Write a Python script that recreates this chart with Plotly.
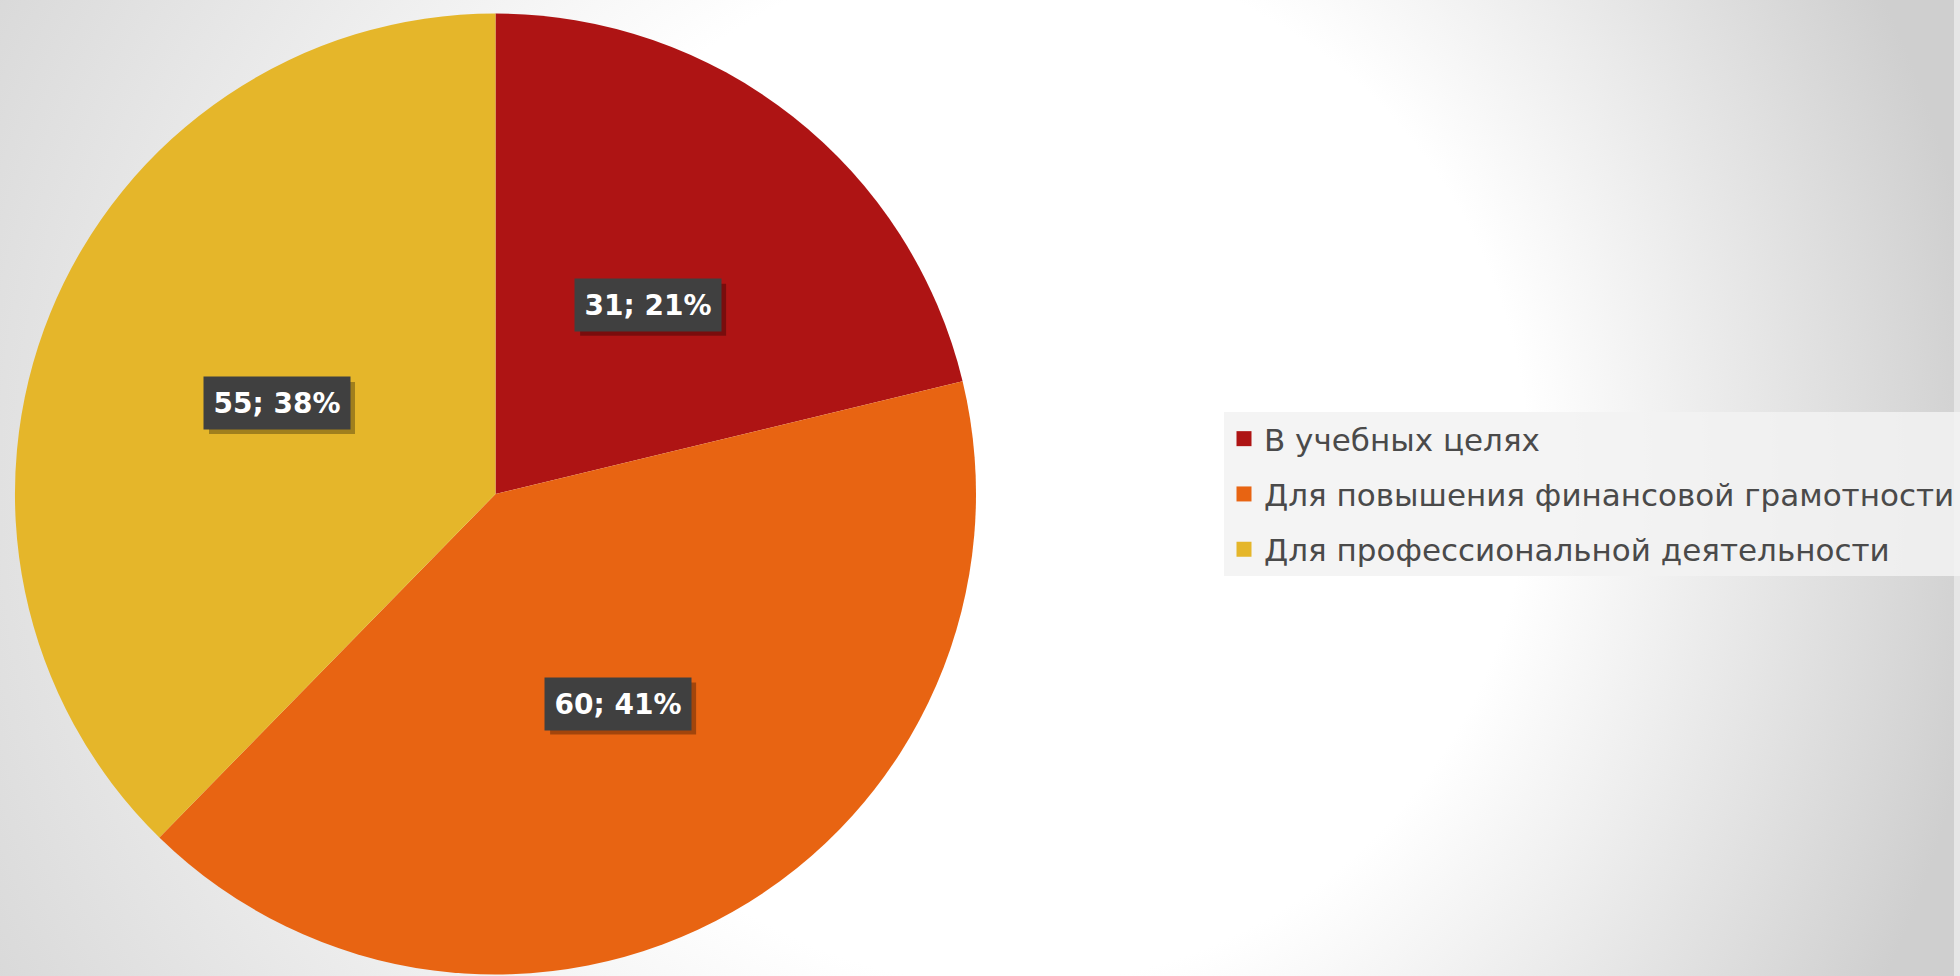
import math
import base64
import plotly.graph_objects as go

# ---- data ----
categories = ["В учебных целях",
              "Для повышения финансовой грамотности",
              "Для профессиональной деятельности"]
values = [31, 60, 55]
percent_labels = ["21%", "41%", "38%"]
colors = ["#AE1414", "#E86412", "#E5B62A"]

W, H = 1960, 976
# pie geometry (pixels)
cx_px, cy_px, r_px = 497, 494, 482

dom_x = [(cx_px - r_px) / W, (cx_px + r_px) / W]
dom_y = [1 - (cy_px + r_px) / H, 1 - (cy_px - r_px) / H]

fig = go.Figure()
fig.add_trace(go.Pie(
    labels=categories,
    values=values,
    marker=dict(colors=colors, line=dict(width=0)),
    sort=False,
    direction="clockwise",
    rotation=0,
    textinfo="none",
    hoverinfo="label+value+percent",
    domain=dict(x=dom_x, y=dom_y),
    showlegend=False,
))

# legend entries (one group each so the gap between entries can be set)
for cat, col in zip(categories, colors):
    fig.add_trace(go.Scatter(
        x=[None], y=[None], mode="markers", name=cat, legendgroup=cat,
        marker=dict(symbol="square", size=15, color=col),
        hoverinfo="skip",
    ))

# data labels placed on slice bisectors at half radius
total = sum(values)
cum = 0
annotations = []
shapes = []
LBL_FONT = "DejaVu Sans"
BW, BH, PAD = 132, 38, 7
for v, p in zip(values, percent_labels):
    mid = (cum + v / 2) / total * 2 * math.pi
    cum += v
    px = cx_px + 0.5 * r_px * math.sin(mid) + 4
    py = cy_px - 0.5 * r_px * math.cos(mid)
    xx, yy = px / W, 1 - py / H
    hw, hh = BW / 2 + PAD, BH / 2 + PAD
    shapes.append(dict(
        type="rect", xref="paper", yref="paper",
        xsizemode="pixel", ysizemode="pixel", xanchor=xx, yanchor=yy,
        x0=-hw + 5, x1=hw + 5, y0=-hh - 5, y1=hh - 5,
        fillcolor="rgba(0,0,0,0.30)", line=dict(width=0), layer="above"))
    annotations.append(dict(
        x=xx, y=yy, xref="paper", yref="paper", text=f"<b>{v}; {p}</b>",
        showarrow=False, xanchor="center", yanchor="middle",
        width=BW, height=BH, borderpad=PAD,
        font=dict(size=28, color="white", family=LBL_FONT),
        bgcolor="#404040"))

svg = f'''<svg xmlns="http://www.w3.org/2000/svg" width="{W}" height="{H}">
<defs><radialGradient id="g" gradientUnits="userSpaceOnUse" cx="850" cy="490" r="1150" fx="1150" fy="450">
<stop offset="0" stop-color="#ffffff"/><stop offset="0.45" stop-color="#ffffff"/>
<stop offset="1" stop-color="#cfcfcf"/>
</radialGradient></defs>
<rect width="{W}" height="{H}" fill="url(#g)"/></svg>'''
src = "data:image/svg+xml;base64," + base64.b64encode(svg.encode()).decode()

fig.update_layout(
    width=W, height=H,
    margin=dict(l=0, r=0, t=0, b=0),
    paper_bgcolor="#e6e6e6",
    plot_bgcolor="rgba(0,0,0,0)",
    xaxis=dict(visible=False, domain=[0.99, 1.0]),
    yaxis=dict(visible=False, domain=[0.99, 1.0]),
    annotations=annotations,
    shapes=shapes,
    images=[dict(source=src, xref="paper", yref="paper", x=0, y=1,
                 sizex=1, sizey=1, xanchor="left", yanchor="top",
                 sizing="stretch", layer="below")],
    legend=dict(
        x=1228 / W, y=1 - 494 / H, xanchor="left", yanchor="middle",
        bgcolor="rgba(242,242,242,0.85)",
        font=dict(size=31, color="#4a4a4a", family="DejaVu Sans"),
        itemwidth=30, tracegroupgap=12, traceorder="grouped",
    ),
    showlegend=True,
)

fig.write_html("out.html", config={"displayModeBar": False},
               post_script="document.body.style.margin='0';document.body.style.overflow='hidden';")
